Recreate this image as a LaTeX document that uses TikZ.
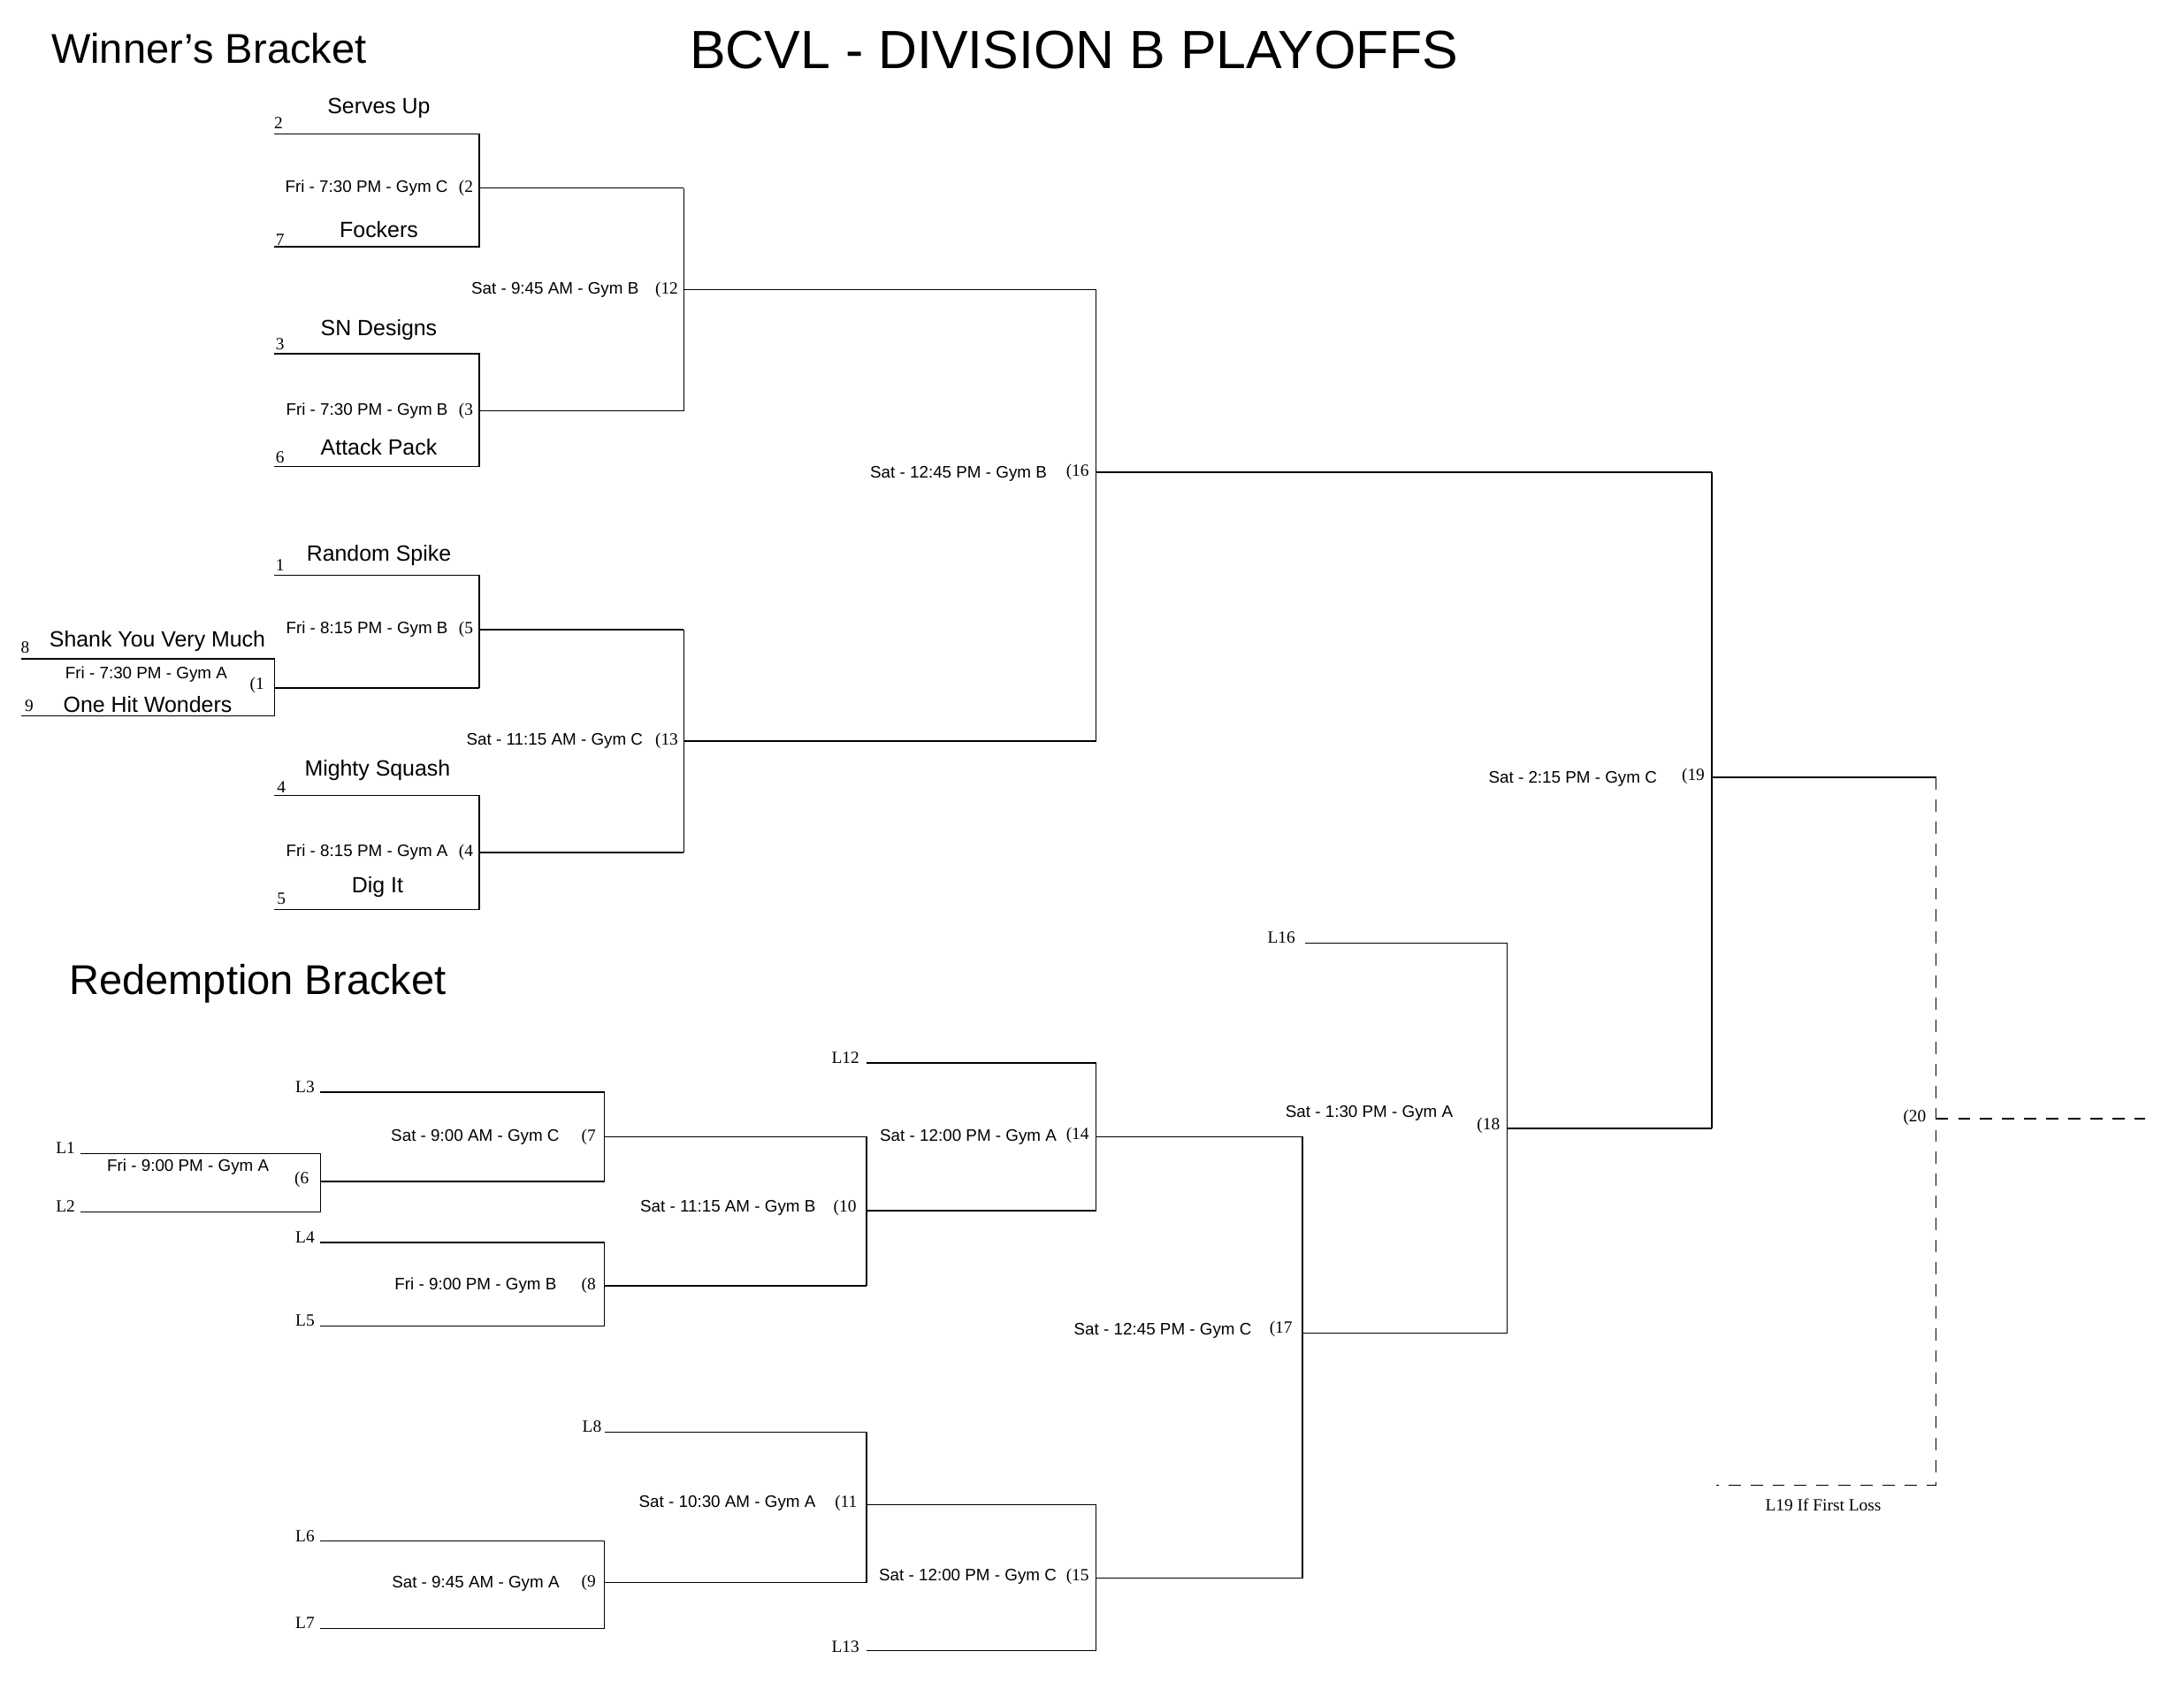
\documentclass[tikz,border=0pt]{standalone}
\usepackage{fontspec}
\setmainfont{Liberation Serif}
\newfontfamily\hsans{Liberation Sans}
\begin{document}
\begin{tikzpicture}[x=0.02cm,y=-0.02cm,line width=0.5pt,
  team/.style={font=\hsans\fontsize{9}{11}\selectfont,inner sep=0pt},
  game/.style={font=\hsans\fontsize{6.8}{7}\selectfont,inner sep=0pt,anchor=east},
  gno/.style={font=\fontsize{7}{8}\selectfont,inner sep=0pt,anchor=west},
  seed/.style={font=\fontsize{7}{8}\selectfont,inner sep=0pt},
  ttl/.style={font=\hsans\fontsize{17}{19}\selectfont,inner sep=0pt},
  dsh/.style={dashed,dash pattern=on 5pt off 4pt}]
\useasboundingbox (0,0) rectangle (1568,1207);
\node[font=\hsans\fontsize{22}{26}\selectfont,inner sep=0pt] at (771,36) {BCVL - DIVISION B PLAYOFFS};
\node[ttl] at (150,35) {Winner’s Bracket};
\node[ttl] at (185,706) {Redemption Bracket};
% Game 2
\draw (197,96) -| (344,177) -- (197,177); \draw (344,135) -- (491,135);
\node[team] at (272,78) {Serves Up}; \node[team] at (272,165) {Fockers};
\node[seed] at (200,88) {2}; \node[seed] at (201,172) {7};
\node[game] at (322,135) {Fri - 7:30 PM - Gym C}; \node[gno] at (329,135) {(2};
% Game 3
\draw (197,254) -| (344,335) -- (197,335); \draw (344,295) -- (491,295);
\node[team] at (272,237) {SN Designs}; \node[team] at (272,321) {Attack Pack};
\node[seed] at (201,247) {3}; \node[seed] at (201,328) {6};
\node[game] at (322,295) {Fri - 7:30 PM - Gym B}; \node[gno] at (329,295) {(3};
% Game 12
\draw (491,135) -- (491,295); \draw (491,208) -- (787,208);
\node[game] at (459,208) {Sat - 9:45 AM - Gym B}; \node[gno] at (470,208) {(12};
% Game 1
\draw (15,473) -| (197,514) -- (15,514); \draw (197,494) -- (344,494);
\node[team] at (113,460) {Shank You Very Much}; \node[team] at (106,506) {One Hit Wonders};
\node[seed] at (18,465) {8}; \node[seed] at (21,507) {9};
\node[font=\hsans\fontsize{6.8}{7}\selectfont,inner sep=0pt] at (105,484) {Fri - 7:30 PM - Gym A};
\node[gno] at (179,492) {(1};
% Game 5
\draw (197,413) -| (344,494); \draw (344,452) -- (491,452);
\node[team] at (272,399) {Random Spike}; \node[seed] at (201,406) {1};
\node[game] at (322,452) {Fri - 8:15 PM - Gym B}; \node[gno] at (329,452) {(5};
% Game 4
\draw (197,571) -| (344,653) -- (197,653); \draw (344,612) -- (491,612);
\node[team] at (271,553) {Mighty Squash}; \node[team] at (271,637) {Dig It};
\node[seed] at (202,565) {4}; \node[seed] at (202,645) {5};
\node[game] at (322,612) {Fri - 8:15 PM - Gym A}; \node[gno] at (329,612) {(4};
% Game 13
\draw (491,452) -- (491,612); \draw (491,532) -- (787,532);
\node[game] at (462,532) {Sat - 11:15 AM - Gym C}; \node[gno] at (470,532) {(13};
% Game 16
\draw (787,208) -- (787,532); \draw (787,339) -- (1229,339);
\node[game] at (752,340) {Sat - 12:45 PM - Gym B}; \node[gno] at (765,339) {(16};
% Game 19
\draw (1229,339) -- (1229,810); \draw (1229,558) -- (1390,558);
\node[game] at (1190,559) {Sat - 2:15 PM - Gym C}; \node[gno] at (1207,557) {(19};
% Game 20
\draw[dsh] (1390,558) -- (1390,1066) -- (1232,1066);
\draw[dsh] (1390,803) -- (1540,803);
\node[seed] at (1309,1080) {L19 If First Loss};
\node[gno] at (1366,802) {(20};
% Game 6
\draw (58,828) -| (230,870) -- (58,870); \draw (230,848) -- (434,848);
\node[seed] at (47,824) {L1}; \node[seed] at (47,866) {L2};
\node[font=\hsans\fontsize{6.8}{7}\selectfont,inner sep=0pt] at (135,838) {Fri - 9:00 PM - Gym A};
\node[gno] at (211,847) {(6};
% Game 7
\draw (230,784) -| (434,848); \draw (434,816) -- (622,816);
\node[seed] at (219,780) {L3};
\node[game] at (402,816) {Sat - 9:00 AM - Gym C}; \node[gno] at (417,816) {(7};
% Game 8
\draw (230,892) -| (434,952) -- (230,952); \draw (434,923) -- (622,923);
\node[seed] at (219,888) {L4}; \node[seed] at (219,948) {L5};
\node[game] at (400,923) {Fri - 9:00 PM - Gym B}; \node[gno] at (417,923) {(8};
% Game 10
\draw (622,816) -- (622,923); \draw (622,869) -- (787,869);
\node[game] at (586,867) {Sat - 11:15 AM - Gym B}; \node[gno] at (598,867) {(10};
% Game 14
\draw (622,763) -| (787,869); \draw (787,816) -- (935,816);
\node[seed] at (607,759) {L12};
\node[game] at (759,816) {Sat - 12:00 PM - Gym A}; \node[gno] at (765,815) {(14};
% Game 9
\draw (230,1106) -| (434,1169) -- (230,1169); \draw (434,1136) -- (622,1136);
\node[seed] at (219,1103) {L6}; \node[seed] at (219,1165) {L7};
\node[game] at (402,1137) {Sat - 9:45 AM - Gym A}; \node[gno] at (417,1136) {(9};
% Game 11
\draw (434,1028) -| (622,1136); \draw (622,1080) -- (787,1080);
\node[seed] at (425,1024) {L8};
\node[game] at (586,1079) {Sat - 10:30 AM - Gym A}; \node[gno] at (599,1079) {(11};
% Game 15
\draw (622,1185) -| (787,1080); \draw (787,1133) -- (935,1133);
\node[seed] at (607,1182) {L13};
\node[game] at (759,1132) {Sat - 12:00 PM - Gym C}; \node[gno] at (765,1132) {(15};
% Game 17
\draw (935,816) -- (935,1133); \draw (935,957) -- (1082,957);
\node[game] at (899,955) {Sat - 12:45 PM - Gym C}; \node[gno] at (911,954) {(17};
% Game 18
\draw (937,677) -| (1082,957); \draw (1082,810) -- (1229,810);
\node[seed] at (920,673) {L16};
\node[font=\hsans\fontsize{6.8}{7}\selectfont,inner sep=0pt] at (983,799) {Sat - 1:30 PM - Gym A};
\node[gno] at (1060,808) {(18};
\end{tikzpicture}
\end{document}
